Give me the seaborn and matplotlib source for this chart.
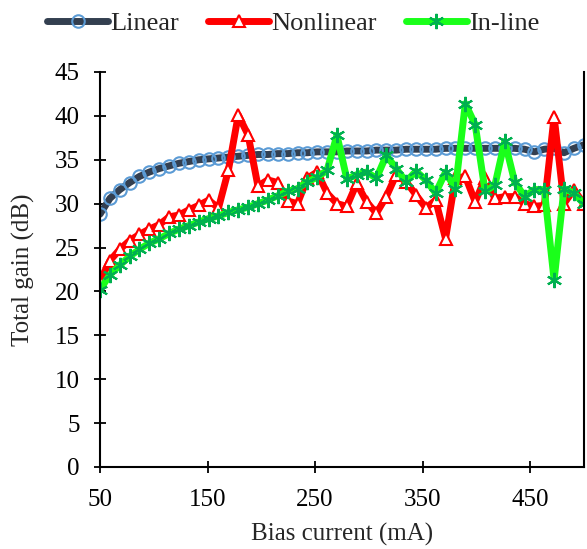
import numpy as np
import pandas as pd
import seaborn as sns
import matplotlib.pyplot as plt

# Bias current grid (mA), 50 points from 50 to 500
bias = [50.0, 59.2, 68.4, 77.6, 86.7, 95.9, 105.1, 114.3, 123.5, 132.7,
        141.8, 151.0, 160.2, 169.4, 178.6, 187.8, 196.9, 206.1, 215.3, 224.5,
        233.7, 242.9, 252.0, 261.2, 270.4, 279.6, 288.8, 298.0, 307.1, 316.3,
        325.5, 334.7, 343.9, 353.1, 362.2, 371.4, 380.6, 389.8, 399.0, 408.2,
        417.3, 426.5, 435.7, 444.9, 454.1, 463.3, 472.4, 481.6, 490.8, 500.0]

linear = [28.8, 30.6, 31.6, 32.4, 33.1, 33.6, 34.0, 34.3, 34.6, 34.8,
          35.0, 35.1, 35.2, 35.3, 35.4, 35.5, 35.6, 35.6, 35.7, 35.7,
          35.8, 35.8, 35.9, 35.9, 35.9, 36.0, 36.0, 36.0, 36.1, 36.1,
          36.1, 36.2, 36.2, 36.2, 36.2, 36.3, 36.3, 36.3, 36.3, 36.3,
          36.3, 36.3, 36.3, 36.2, 35.9, 36.2, 36.3, 35.8, 36.3, 36.7]

nonlinear = [21.2, 23.5, 24.8, 25.8, 26.5, 27.1, 27.6, 28.5, 28.7, 29.3,
             29.8, 30.4, 29.5, 33.8, 40.1, 37.8, 32.0, 32.7, 32.4, 30.3,
             30.0, 32.9, 33.6, 31.2, 30.0, 29.7, 32.3, 30.2, 28.9, 30.8,
             33.3, 32.5, 31.0, 29.5, 30.4, 26.0, 32.9, 33.1, 30.2, 32.9,
             30.6, 30.8, 30.8, 30.0, 29.7, 29.8, 39.9, 30.0, 31.6, 30.0]

inline = [20.2, 21.9, 23.0, 24.0, 24.8, 25.5, 26.0, 26.6, 27.1, 27.5,
          27.9, 28.3, 28.6, 29.0, 29.3, 29.6, 30.0, 30.4, 30.9, 31.4,
          31.7, 32.5, 33.0, 33.8, 37.8, 32.8, 33.3, 33.6, 32.9, 35.5,
          34.0, 32.5, 33.7, 32.7, 31.2, 33.6, 31.7, 41.4, 39.0, 31.4,
          32.1, 37.1, 32.5, 30.8, 31.6, 31.6, 21.3, 31.7, 31.2, 30.0]

df = pd.DataFrame({"Bias": bias, "Linear": linear,
                   "Nonlinear": nonlinear, "In-line": inline})

sns.set_style("ticks")
plt.rcParams['font.family'] = ['Liberation Serif', 'DejaVu Serif']

fig = plt.figure(figsize=(5.87, 5.49), dpi=100)
ax = fig.add_axes([0.1704, 0.1494, 0.8241, 0.7195])

sns.lineplot(data=df, x="Bias", y="Linear", ax=ax, color="#333f50",
             linewidth=5, marker="o", markersize=9, markerfacecolor="none",
             markeredgecolor="#5b9bd5", markeredgewidth=1.5, label="Linear")
sns.lineplot(data=df, x="Bias", y="Nonlinear", ax=ax, color="#ff0000",
             linewidth=5, marker="^", markersize=9, markerfacecolor="white",
             markeredgecolor="#ff0000", markeredgewidth=1.5, label="Nonlinear")
sns.lineplot(data=df, x="Bias", y="In-line", ax=ax, color="#1aff1a",
             linewidth=5, marker=(6, 2, 0), markersize=11,
             markeredgecolor="#00b050", markeredgewidth=1.5, label="In-line")

ax.set_xlim(50, 500)
ax.set_ylim(0, 45)
ax.set_xticks([50, 150, 250, 350, 450])
ax.set_yticks(range(0, 46, 5))
ax.tick_params(direction="inout", length=9, width=1.3, labelsize=18,
               colors="black")
ax.tick_params(axis="x", pad=11)
ax.tick_params(axis="y", pad=10)
for side in ["left", "bottom", "right"]:
    ax.spines[side].set_color("black")
    ax.spines[side].set_linewidth(1.5)
ax.spines["top"].set_visible(False)

ax.set_xlabel("Bias current (mA)", fontsize=18, labelpad=9)
ax.set_ylabel("Total gain (dB)", fontsize=18, labelpad=14)

handles, labels = ax.get_legend_handles_labels()
ax.get_legend().remove()
fig.legend(handles, labels, loc="upper center", bbox_to_anchor=(0.5, 1.022),
           ncol=3, frameon=False, fontsize=19, handlelength=2.3,
           handletextpad=0.1, columnspacing=1.1)

fig.savefig("out.png", dpi=100)
